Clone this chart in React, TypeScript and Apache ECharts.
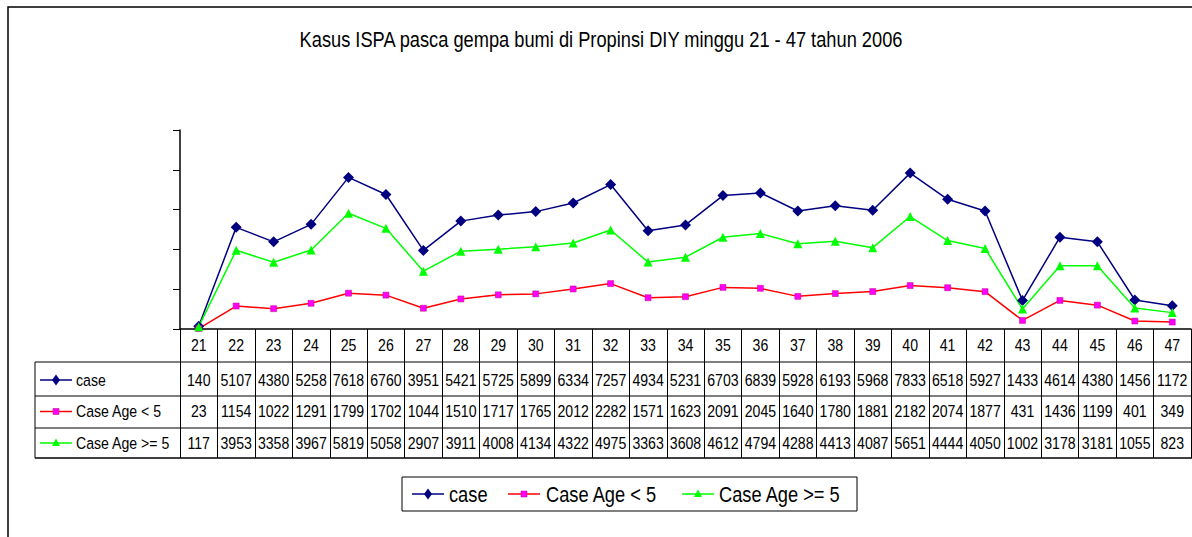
import React, { useEffect, useRef } from "react";
import * as echarts from "echarts";

const weeks = ["21","22","23","24","25","26","27","28","29","30","31","32","33","34","35","36","37","38","39","40","41","42","43","44","45","46","47"];
const caseTotal = [140,5107,4380,5258,7618,6760,3951,5421,5725,5899,6334,7257,4934,5231,6703,6839,5928,6193,5968,7833,6518,5927,1433,4614,4380,1456,1172];
const caseUnder5 = [23,1154,1022,1291,1799,1702,1044,1510,1717,1765,2012,2282,1571,1623,2091,2045,1640,1780,1881,2182,2074,1877,431,1436,1199,401,349];
const caseOver5 = [117,3953,3358,3967,5819,5058,2907,3911,4008,4134,4322,4975,3363,3608,4612,4794,4288,4413,4087,5651,4444,4050,1002,3178,3181,1055,823];
const seriesNames = ["case", "Case Age < 5", "Case Age >= 5"];
const titleText = "Kasus ISPA pasca gempa bumi di Propinsi DIY minggu 21 - 47 tahun 2006";

const FONT = "'Liberation Sans', Arial, sans-serif";
const SX = 0.83;
const NAVY = "#000080";
const RED = "#FF0000";
const MAGENTA = "#FF00FF";
const GREEN = "#00FF00";

function txt(text: string, x: number, y: number, size: number, align: string) {
  return {
    type: "text", x, y, scaleX: SX, scaleY: 1,
    style: { text, fontSize: size, fontFamily: FONT, fill: "#000", align, verticalAlign: "middle" },
    silent: true,
  };
}

function marker(kind: number, cx: number, cy: number) {
  if (kind === 0) {
    return { type: "polygon", shape: { points: [[cx, cy - 5.5], [cx + 4, cy], [cx, cy + 5.5], [cx - 4, cy]] }, style: { fill: NAVY } };
  }
  if (kind === 1) {
    return { type: "rect", shape: { x: cx - 3, y: cy - 3, width: 6, height: 6 }, style: { fill: MAGENTA, stroke: "#C00080", lineWidth: 0.5 } };
  }
  return { type: "polygon", shape: { points: [[cx, cy - 4.5], [cx + 4, cy + 3], [cx - 4, cy + 3]] }, style: { fill: GREEN } };
}

export default function App() {
  const ref = useRef<HTMLDivElement>(null);
  useEffect(() => {
    if (!ref.current) return;
    const chart = echarts.init(ref.current, undefined, { renderer: "svg" });
    const rowColors = [NAVY, RED, GREEN];
    const seriesData = [caseTotal, caseUnder5, caseOver5];

    chart.setOption({
      animation: false,
      backgroundColor: "#fff",
      grid: { left: 180, top: 130, width: 1011, height: 199, containLabel: false },
      xAxis: {
        type: "category",
        data: weeks,
        boundaryGap: true,
        axisLine: { show: true, lineStyle: { color: "#000", width: 1.5 } },
        axisTick: { show: true, alignWithLabel: false, interval: 0, length: 129, lineStyle: { color: "#000", width: 1 } },
        axisLabel: { show: false },
        splitLine: { show: false },
      },
      yAxis: {
        type: "value",
        min: 0,
        max: 10000,
        interval: 2000,
        axisLine: { show: true, lineStyle: { color: "#000", width: 1.5 } },
        axisTick: { show: true, inside: false, length: 7, lineStyle: { color: "#000" } },
        axisLabel: { show: false },
        splitLine: { show: false },
      },
      series: [
        {
          name: seriesNames[0], type: "line", data: caseTotal,
          symbol: "diamond", symbolSize: 11,
          lineStyle: { color: NAVY, width: 1.5 },
          itemStyle: { color: NAVY },
        },
        {
          name: seriesNames[1], type: "line", data: caseUnder5,
          symbol: "rect", symbolSize: 6,
          lineStyle: { color: RED, width: 1.5 },
          itemStyle: { color: MAGENTA, borderColor: "#C00080", borderWidth: 0.5 },
        },
        {
          name: seriesNames[2], type: "line", data: caseOver5,
          symbol: "triangle", symbolSize: 9,
          lineStyle: { color: GREEN, width: 1.5 },
          itemStyle: { color: GREEN },
        },
      ],
    });

    const headerY = 345;
    const rowY = [380, 411.5, 443];
    const graphics: any[] = [
      { type: "rect", shape: { x: 8, y: 7, width: 1400, height: 800 }, style: { fill: "none", stroke: "#000", lineWidth: 1.5 }, silent: true, z: -1 },
      { type: "line", shape: { x1: 35, y1: 362, x2: 1192, y2: 362 }, style: { stroke: "#000", lineWidth: 1 } },
      { type: "line", shape: { x1: 35, y1: 396, x2: 1192, y2: 396 }, style: { stroke: "#000", lineWidth: 1 } },
      { type: "line", shape: { x1: 35, y1: 428, x2: 1192, y2: 428 }, style: { stroke: "#000", lineWidth: 1 } },
      { type: "line", shape: { x1: 35, y1: 458, x2: 1192, y2: 458 }, style: { stroke: "#000", lineWidth: 1.5 } },
      { type: "line", shape: { x1: 35, y1: 362, x2: 35, y2: 458 }, style: { stroke: "#000", lineWidth: 1 } },
      txt(titleText, 601, 39, 22, "center"),
    ];
    // row labels with line symbols
    seriesNames.forEach((n, i) => {
      graphics.push({ type: "line", shape: { x1: 40, y1: rowY[i], x2: 72, y2: rowY[i] }, style: { stroke: rowColors[i], lineWidth: 1.5 } });
      graphics.push(marker(i, 56, rowY[i]));
      graphics.push(txt(n, 76, rowY[i], 17, "left"));
    });
    // data table cells, positioned by the category axis
    weeks.forEach((w, i) => {
      const x = chart.convertToPixel({ xAxisIndex: 0 }, w) as number;
      graphics.push(txt(w, x, headerY, 17, "center"));
      seriesData.forEach((arr, r) => {
        graphics.push(txt(String(arr[i]), x, rowY[r], 17, "center"));
      });
    });
    // legend
    const legY = 494;
    graphics.push({ type: "rect", shape: { x: 402, y: 477, width: 455, height: 34 }, style: { fill: "#fff", stroke: "#000", lineWidth: 1 } });
    const legLineX = [412, 508, 682];
    const legTextX = [449, 546, 719];
    seriesNames.forEach((n, i) => {
      graphics.push({ type: "line", shape: { x1: legLineX[i], y1: legY, x2: legLineX[i] + 32, y2: legY }, style: { stroke: rowColors[i], lineWidth: 1.5 } });
      graphics.push(marker(i, legLineX[i] + 16, legY));
      graphics.push(txt(n, legTextX[i], legY, 22, "left"));
    });

    chart.setOption({ graphic: graphics });
    return () => chart.dispose();
  }, []);
  return <div ref={ref} style={{ position: "fixed", left: 0, top: 0, width: 1192, height: 537 }} />;
}
